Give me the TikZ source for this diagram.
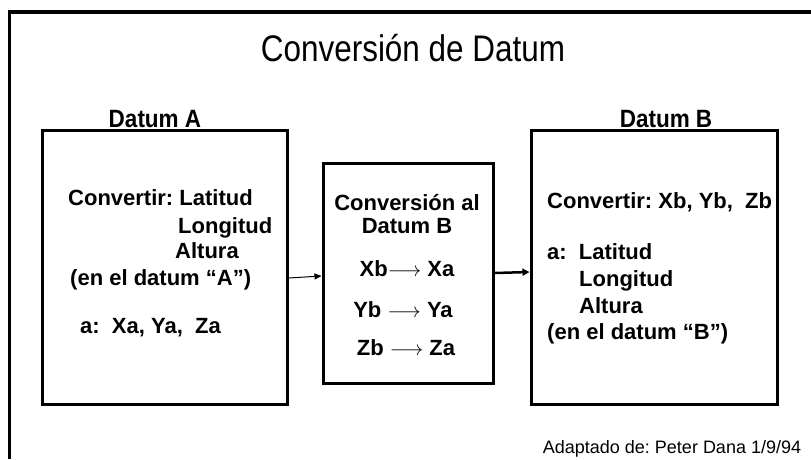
\documentclass[tikz,border=0pt]{standalone}
\usepackage{fontspec}
\usepackage{graphicx}
\setmainfont{Liberation Sans}
\usetikzlibrary{arrows.meta}
\frenchspacing
\begin{document}
\begin{tikzpicture}[x=1pt,y=-1pt,
  frame/.style={line width=3.5pt},
  box/.style={draw,line width=3pt,inner sep=0pt},
  txt/.style={inner sep=0pt,anchor=base west,font=\fontsize{22}{26}\selectfont\bfseries},
  ctxt/.style={inner sep=0pt,anchor=base,font=\fontsize{22}{26}\selectfont\bfseries},
  head/.style={inner sep=0pt,anchor=base,font=\fontsize{25}{28}\selectfont\bfseries},
  thinarrow/.style={line width=1pt,-{Triangle[length=7pt,width=6pt]}},
  thickarrow/.style={line width=2.5pt,-{Triangle[length=7pt,width=7pt]}}]
\useasboundingbox (0,0) rectangle (811,459);
\fill[white] (0,0) rectangle (811,459);
% frame
\coordinate (fbl) at (9.5,459);
\coordinate (ftl) at (9.5,12);
\coordinate (ftr) at (811,12);
\draw[frame] (fbl) -- (ftl) -- (ftr);
% title
\node[inner sep=0pt,anchor=base,font=\fontsize{37}{40}\selectfont] (title) at (413,61) {\scalebox{0.85}[1]{Conversión de Datum}};
\node[head] (hA) at (155,127) {\scalebox{0.9}[1]{Datum A}};
\node[head] (hB) at (666,127) {\scalebox{0.9}[1]{Datum B}};
% boxes
\node[box,minimum width=245pt,minimum height=274pt] (A) at (164.5,267) {};
\node[box,minimum width=170pt,minimum height=220pt] (M) at (408,273) {};
\node[box,minimum width=246pt,minimum height=274pt] (B) at (654,267) {};
% box A text
\node[txt] (a1) at (68,205) {Convertir: Latitud};
\node[txt] (a2) at (178,233) {Longitud};
\node[txt] (a3) at (175,258) {Altura};
\node[txt] (a4) at (70,285) {(en el datum “A”)};
\node[txt] (a5) at (80,333) {a:\ \ Xa, Ya,\ \ Za};
% middle text
\node[ctxt] (m1) at (407,210) {Conversión al};
\node[ctxt] (m2) at (407,233) {Datum B};
\node[ctxt] (m3) at (407,276) {Xb$\longrightarrow$ Xa};
\node[ctxt] (m4) at (403,317) {Yb $\longrightarrow$ Ya};
\node[ctxt] (m5) at (406,355) {Zb $\longrightarrow$\ Za};
% box B text
\node[txt] (b1) at (547,208) {Convertir: Xb, Yb,\ \ Zb};
\node[txt] (b2) at (547,259) {a:\ \ Latitud};
\node[txt] (b3) at (579,286) {Longitud};
\node[txt] (b4) at (579,313) {Altura};
\node[txt] (b5) at (547,339) {(en el datum “B”)};
% arrows
\draw[thinarrow] (A.east |- 0,278) -- (M.west |- 0,276);
\draw[thickarrow] (M.east |- 0,273) -- (B.west |- 0,272);
% footer
\node[inner sep=0pt,anchor=base,font=\fontsize{18}{20}\selectfont] (foot) at (672,453) {Adaptado de: Peter Dana 1/9/94};
\end{tikzpicture}
\end{document}
